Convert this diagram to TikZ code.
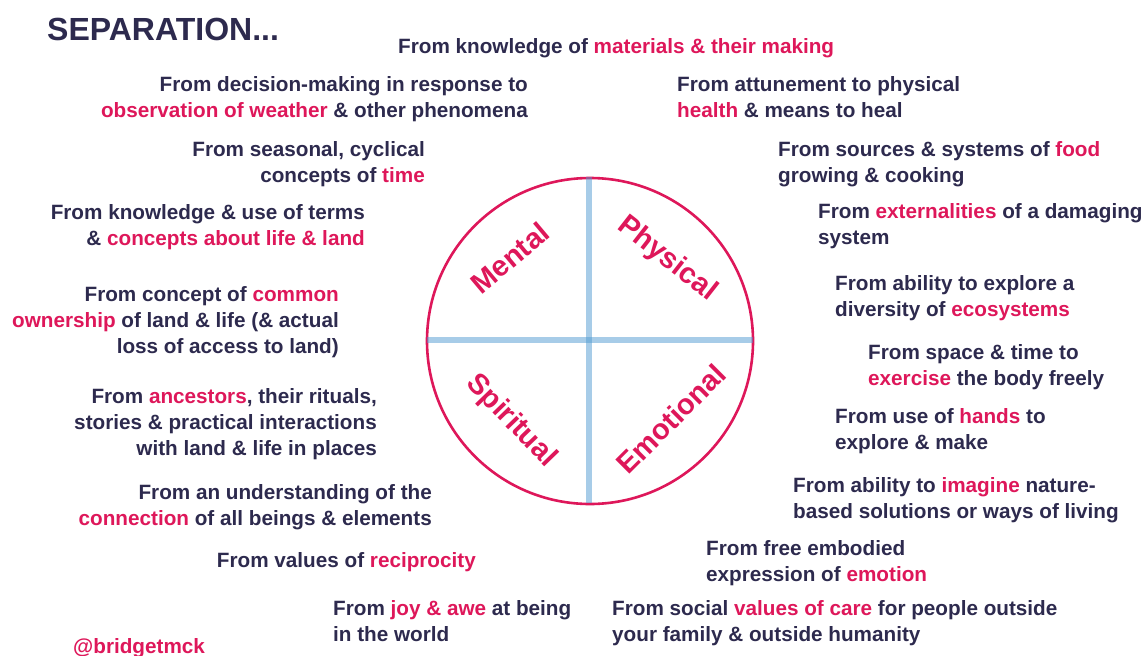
\documentclass[tikz,border=0pt]{standalone}
\usepackage{fontspec}
\setmainfont{Liberation Sans}
\definecolor{navy}{RGB}{45,42,78}
\definecolor{rose}{RGB}{222,23,90}
\definecolor{sky}{RGB}{80,155,210}
\newcommand{\hl}[1]{\textcolor{rose}{#1}}
\begin{document}
\begin{tikzpicture}[x=1pt,y=-1pt,
  txt/.style={inner sep=0pt, text=navy, font=\fontsize{20.7}{26}\selectfont\bfseries},
  lft/.style={txt, align=right, anchor=north east},
  rgt/.style={txt, align=left, anchor=north west},
  quad/.style={inner sep=0pt, text=rose, font=\fontsize{29}{29}\selectfont\bfseries},
  axis/.style={draw=sky, opacity=0.5, line width=6.5pt}]
\path[use as bounding box, fill=white] (0,0) rectangle (1146,656);

% wheel
\coordinate (c) at (590,341);
\draw[rose, line width=2.6pt] (c) circle[radius=163pt];
\draw[axis] (589,177) -- (589,503);
\draw[axis] (427,340) -- (753,340);
\node[quad, rotate=40]  (mental)    at (510,258) {Mental};
\node[quad, rotate=-38] (physical)  at (667,259) {Physical};
\node[quad, rotate=-46] (spiritual) at (511,421) {Spiritual};
\node[quad, rotate=45]  (emotional) at (671,419) {Emotional};

% heading
\node[inner sep=0pt, anchor=base west, text=navy, font=\fontsize{32}{32}\selectfont\bfseries] (title) at (47,40) {SEPARATION...};
\node[rgt] (top) at (398,35) {\strut From knowledge of \hl{materials \& their making}};

% left side
\node[lft] (l1) at (528,73) {\strut From decision-making in response to\\\strut\hl{observation of weather} \& other phenomena};
\node[lft] (l2) at (425,138) {\strut From seasonal, cyclical\\\strut concepts of \hl{time}};
\node[lft] (l3) at (365,201) {\strut From knowledge \& use of terms\\\strut \& \hl{concepts about life \& land}};
\node[lft] (l4) at (339,283) {\strut From concept of \hl{common}\\\strut\hl{ownership} of land \& life (\& actual\\\strut loss of access to land)};
\node[lft] (l5) at (377,385) {\strut From \hl{ancestors}, their rituals,\\\strut stories \& practical interactions\\\strut with land \& life in places};
\node[lft] (l6) at (432,481) {\strut From an understanding of the\\\strut\hl{connection} of all beings \& elements};
\node[lft] (l7) at (476,549) {\strut From values of \hl{reciprocity}};
\node[rgt] (b1) at (333,597) {\strut From \hl{joy \& awe} at being\\\strut in the world};
\node[rgt, text=rose] (handle) at (73,635) {\strut @bridgetmck};

% right side
\node[rgt] (r1) at (677,73) {\strut From attunement to physical\\\strut\hl{health} \& means to heal};
\node[rgt] (r2) at (778,138) {\strut From sources \& systems of \hl{food}\\\strut growing \& cooking};
\node[rgt] (r3) at (818,200) {\strut From \hl{externalities} of a damaging\\\strut system};
\node[rgt] (r4) at (835,272) {\strut From ability to explore a\\\strut diversity of \hl{ecosystems}};
\node[rgt] (r5) at (868,341) {\strut From space \& time to\\\strut\hl{exercise} the body freely};
\node[rgt] (r6) at (835,405) {\strut From use of \hl{hands} to\\\strut explore \& make};
\node[rgt] (r7) at (793,474) {\strut From ability to \hl{imagine} nature-\\\strut based solutions or ways of living};
\node[rgt] (r8) at (706,537) {\strut From free embodied\\\strut expression of \hl{emotion}};
\node[rgt] (r9) at (612,597) {\strut From social \hl{values of care} for people outside\\\strut your family \& outside humanity};
\end{tikzpicture}
\end{document}
